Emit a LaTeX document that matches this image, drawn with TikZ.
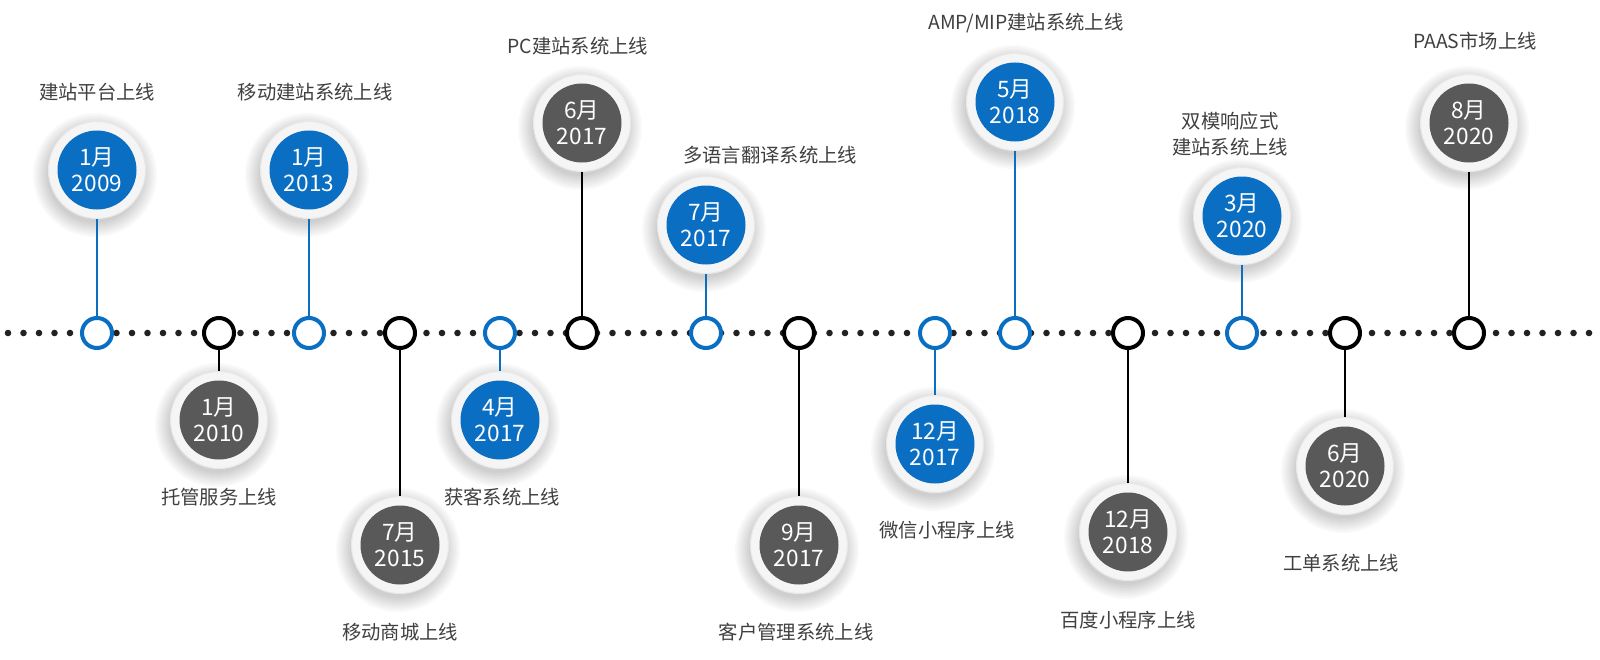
\documentclass[tikz,border=0pt]{standalone}
\usepackage{fontspec}
\setmainfont{Noto Sans CJK SC}
\definecolor{tblue}{HTML}{0A6FC2}
\definecolor{tgray}{HTML}{595959}
\definecolor{ttext}{HTML}{404040}
\definecolor{tdot}{HTML}{222222}
\pgfdeclarelayer{bg}
\pgfsetlayers{bg,main}
\tikzset{
  ringnode/.style={circle, draw=#1, line width=3pt, fill=white, minimum size=22.5pt, inner sep=0pt},
  outerdisc/.style={circle, fill=black!4, draw=black!9, line width=0.8pt, minimum size=72.75pt, inner sep=0pt},
  datedisc/.style={circle, fill=#1, minimum size=59.25pt, inner sep=0pt, text=white, align=center,
    font=\fontsize{17}{19.5}\selectfont},
  lbl/.style={text=ttext, align=center, inner sep=0pt, font=\fontsize{14.5}{19}\selectfont},
  conn/.style={draw=#1, line width=0.9pt}
}
\newcommand{\evt}[6]{%
  \node[ringnode=#6] (r#1) at (#2,333) {};
  \begin{pgfonlayer}{bg}
    \foreach \rr in {48,50,...,62} \fill[black,opacity=0.025] (#2-2,#3+5) circle[radius=\rr];
  \end{pgfonlayer}
  \node[outerdisc] (c#1) at (#2,#3) {};
  \node[datedisc=#4] (d#1) at (#2,#3) {#5};
  \draw[conn=#6] (c#1) -- (r#1);
}
\begin{document}
\begin{tikzpicture}[x=0.75pt,y=-0.75pt]
\useasboundingbox (0,0) rectangle (1600,660);
\begin{pgfonlayer}{bg}
  \fill[white] (0,0) rectangle (1600,660);
  \foreach \i in {0,...,102} \fill[tdot] (8+15.5*\i,333) circle[radius=3.3];
\end{pgfonlayer}

\evt{1}{97}{170}{tblue}{1月\\2009}{tblue}
\evt{2}{219}{420}{tgray}{1月\\2010}{black}
\evt{3}{309}{170}{tblue}{1月\\2013}{tblue}
\evt{4}{400}{545}{tgray}{7月\\2015}{black}
\evt{5}{500}{420}{tblue}{4月\\2017}{tblue}
\evt{6}{582}{123}{tgray}{6月\\2017}{black}
\evt{7}{706}{225}{tblue}{7月\\2017}{tblue}
\evt{8}{799}{545}{tgray}{9月\\2017}{black}
\evt{9}{935}{444}{tblue}{12月\\2017}{tblue}
\evt{10}{1015}{102}{tblue}{5月\\2018}{tblue}
\evt{11}{1128}{532}{tgray}{12月\\2018}{black}
\evt{12}{1242}{216}{tblue}{3月\\2020}{tblue}
\evt{13}{1345}{466}{tgray}{6月\\2020}{black}
\evt{14}{1469}{123}{tgray}{8月\\2020}{black}

\node[lbl] (l1) at (97,92) {建站平台上线};
\node[lbl] (l2) at (219,497) {托管服务上线};
\node[lbl] (l3) at (315,92) {移动建站系统上线};
\node[lbl] (l4) at (400,632) {移动商城上线};
\node[lbl] (l5) at (502,497) {获客系统上线};
\node[lbl] (l6) at (578,46) {PC建站系统上线};
\node[lbl] (l7) at (770,155) {多语言翻译系统上线};
\node[lbl] (l8) at (796,632) {客户管理系统上线};
\node[lbl] (l9) at (947,530) {微信小程序上线};
\node[lbl] (l10) at (1026,23) {AMP/MIP建站系统上线};
\node[lbl] (l11) at (1128,620) {百度小程序上线};
\node[lbl] (l12) at (1230,134) {双模响应式\\建站系统上线};
\node[lbl] (l13) at (1341,563) {工单系统上线};
\node[lbl] (l14) at (1475,41) {PAAS市场上线};
\end{tikzpicture}
\end{document}
